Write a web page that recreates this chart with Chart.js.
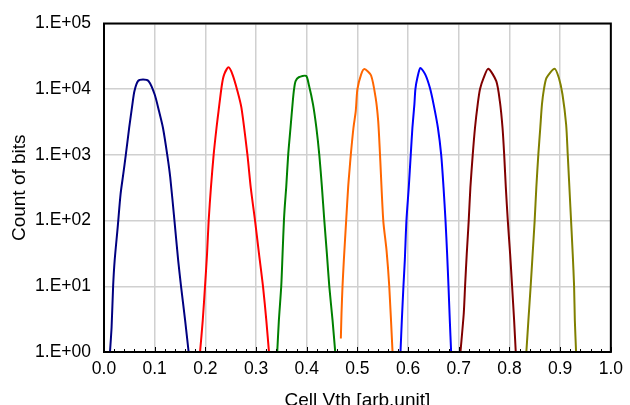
<!DOCTYPE html>
<html>
<head>
<meta charset="utf-8">
<script src="https://cdn.jsdelivr.net/npm/chart.js@4"></script>
<style>
  html, body { margin: 0; padding: 0; background: #fff; }
  #wrap { width: 630px; height: 405px; }
</style>
</head>
<body>
<div id="wrap"><canvas id="vthChart"></canvas></div>
<script>
// state distributions: [Vth, count]
const er = [[0.0118,1],[0.015,2.4],[0.018,10],[0.021,24.6],[0.027,79],[0.0327,253],[0.038,509],[0.043,1000],[0.0497,2590],[0.056,5880],[0.060,9330],[0.067,13240],[0.077,14000],[0.088,13240],[0.100,8300],[0.1085,4650],[0.1163,2590],[0.1248,1000],[0.1307,454],[0.139,100],[0.1464,24.6],[0.152,10],[0.160,3.05],[0.167,1]];
const a = [[0.1895,1],[0.1948,3],[0.1993,10],[0.2033,31],[0.2065,100],[0.211,320],[0.2163,1000],[0.222,2590],[0.226,4650],[0.2327,11800],[0.237,16700],[0.2457,21500],[0.2536,16700],[0.2634,9330],[0.2712,5200],[0.283,1000],[0.2895,320],[0.298,100],[0.3059,31],[0.3137,10],[0.3203,3],[0.3255,1]];
const b = [[0.3418,1],[0.345,3],[0.3497,10],[0.3523,31],[0.355,100],[0.357,178],[0.3595,320],[0.3634,1000],[0.368,2590],[0.3725,6560],[0.375,10000],[0.378,13240],[0.3843,15200],[0.3987,15940],[0.404,11800],[0.4124,5880],[0.419,2590],[0.4248,1000],[0.430,320],[0.4347,100],[0.4398,31],[0.4445,10],[0.451,3],[0.4562,1]];
const c = [[0.4673,1.61],[0.4686,3.86],[0.4706,10],[0.4732,24.8],[0.4778,100],[0.4817,320],[0.4843,573],[0.4869,1000],[0.4922,2590],[0.4967,4650],[0.5,10000],[0.5072,16700],[0.5137,20300],[0.5268,16300],[0.536,7360],[0.541,3270],[0.5445,1035],[0.551,100],[0.5575,35],[0.5628,10],[0.5693,1]];
const d = [[0.585,1],[0.5876,3],[0.5908,10],[0.5935,24.8],[0.5967,100],[0.6013,320],[0.6052,1000],[0.6085,2590],[0.6124,5880],[0.6144,10000],[0.6183,14900],[0.6242,21000],[0.634,16700],[0.643,10500],[0.6503,5880],[0.6588,2590],[0.6653,1000],[0.6699,320],[0.6738,100],[0.677,31],[0.6797,10],[0.6823,3],[0.6849,1]];
const e = [[0.7033,1],[0.7098,3.86],[0.7124,10],[0.7157,31],[0.7196,100],[0.7229,320],[0.7275,1000],[0.732,2590],[0.7373,5880],[0.7418,10000],[0.749,14900],[0.7582,20500],[0.774,13240],[0.781,6560],[0.7863,2590],[0.7896,1000],[0.7928,320],[0.7967,100],[0.8013,31],[0.8052,10],[0.8092,3],[0.8124,1]];
const f = [[0.8333,1],[0.8373,3],[0.8418,10],[0.8457,31],[0.8497,100],[0.853,320],[0.8569,1000],[0.8608,2590],[0.8641,5880],[0.868,10000],[0.8732,14900],[0.8889,20500],[0.8974,14900],[0.9046,8300],[0.9118,2900],[0.915,1000],[0.9202,160],[0.9248,31],[0.9275,10],[0.929,3],[0.9314,1]];

const states = [er, a, b, c, d, e, f];
const colors = ['#000080', '#ff0000', '#008000', '#ff6600', '#0000ff', '#800000', '#808000'];
const yTicks = [1, 10, 100, 1000, 10000, 100000];

const datasets = states.map((s, i) => ({
  data: s.map(p => ({ x: p[0], y: p[1] })),
  borderColor: colors[i],
  borderWidth: 2,
  pointRadius: 0,
  tension: 0.25,
  fill: false
}));

// frame around the plot plus small inward minor ticks on the x axis
const frame = {
  id: 'frame',
  afterDatasetsDraw(chart) {
    const { ctx, chartArea: ca, scales } = chart;
    ctx.save();
    ctx.strokeStyle = '#000';
    ctx.lineWidth = 1;
    for (let v = 0; v <= 100; v += 2) {
      const px = Math.round(scales.x.getPixelForValue(v / 100)) + 0.5;
      ctx.beginPath();
      ctx.moveTo(px, ca.bottom);
      ctx.lineTo(px, ca.bottom - (v % 10 === 0 ? 5 : 3));
      ctx.stroke();
    }
    ctx.lineWidth = 2;
    ctx.strokeRect(ca.left, ca.top, ca.right - ca.left, ca.bottom - ca.top);
    ctx.restore();
  }
};

Chart.defaults.font.family = '"Liberation Sans", Arial, sans-serif';
Chart.defaults.font.size = 17.5;
Chart.defaults.color = '#000';

new Chart(document.getElementById('vthChart'), {
  type: 'line',
  data: { datasets },
  options: {
    responsive: true,
    maintainAspectRatio: false,
    animation: false,
    layout: { padding: { top: 22, right: 16, left: 0, bottom: 0 } },
    plugins: { legend: { display: false }, tooltip: { enabled: false } },
    scales: {
      x: {
        type: 'linear',
        min: 0,
        max: 1,
        ticks: { stepSize: 0.1, callback: v => v.toFixed(1), padding: 7 },
        grid: { color: '#d0d0d0', lineWidth: 1.5, drawTicks: false },
        border: { display: false },
        title: { display: true, text: 'Cell Vth [arb.unit]', font: { size: 19 }, padding: { top: 10, bottom: -7 } },
        afterFit: s => { s.height = 53; }
      },
      y: {
        type: 'logarithmic',
        min: 1,
        max: 100000,
        afterBuildTicks: s => { s.ticks = yTicks.map(v => ({ value: v })); },
        ticks: {
          callback: v => '1.E+' + String(Math.round(Math.log10(v))).padStart(2, '0'),
          padding: 13
        },
        grid: { color: '#d0d0d0', lineWidth: 1.5, drawTicks: false },
        border: { display: false },
        title: { display: true, text: 'Count of bits', font: { size: 19 }, padding: { top: 8, bottom: 0 } },
        afterFit: s => { s.width = 104; }
      }
    }
  },
  plugins: [frame]
});
</script>
</body>
</html>
